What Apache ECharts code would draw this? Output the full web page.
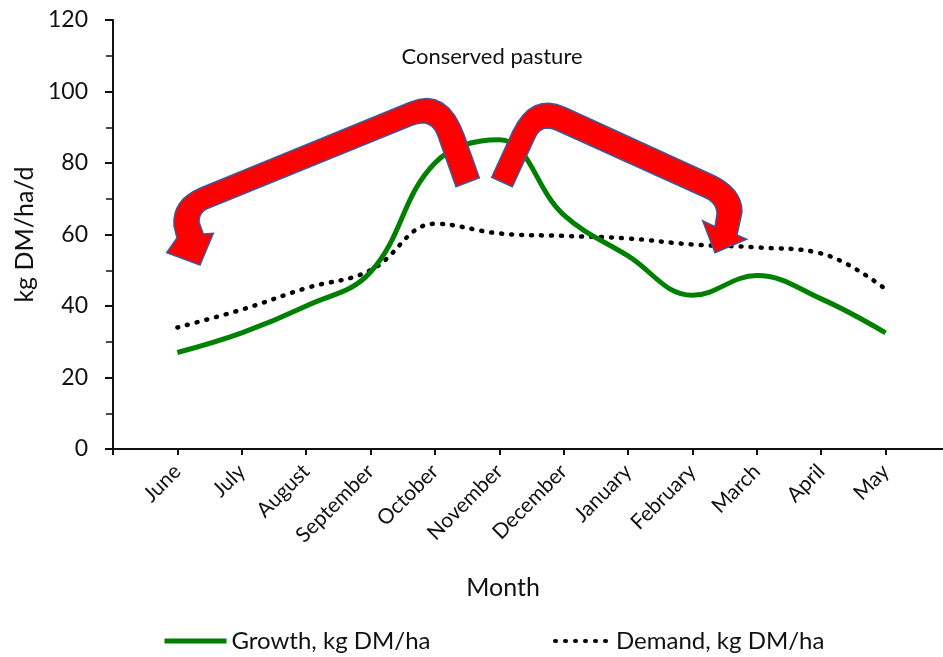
<!DOCTYPE html>
<html>
<head>
    <meta charset="utf-8">
    <title>Pasture growth and demand</title>
    <script src="https://cdn.jsdelivr.net/npm/echarts@6/dist/echarts.min.js"></script>
    <style type="text/css">
        * { margin: 0; padding: 0; }
        body { background: #fff; }
    </style>
</head>
<body>
<div id="main" style="width: 943px; height: 657px;"></div>
<script type="text/javascript">
    // data
    var months = ['June', 'July', 'August', 'September', 'October', 'November',
                  'December', 'January', 'February', 'March', 'April', 'May'];
    var growth = [27, 32.5, 40, 49.5, 80, 86.5, 65.5, 54, 43, 48.5, 42, 32.5];
    var demand = [34, 39, 45, 50, 63, 60.3, 59.6, 58.9, 57.2, 56.4, 54.7, 44.7];

    // blank slot at each end so the axis runs past June and May
    var cats = [''].concat(months, ['']);
    function pad(arr) { return ['-'].concat(arr, ['-']); }

    var FONT = 'Lato';
    var myChart = echarts.init(document.getElementById('main'));

    // outline of an arrow: plain points [x, y] or quadratic corners [cx, cy, x, y]
    function outline(parts) {
        var pts = [];
        var last = null;
        parts.forEach(function (p) {
            if (p.length === 2) {
                pts.push(p);
                last = p;
            } else {
                for (var i = 1; i <= 8; i++) {
                    var t = i / 8, u = 1 - t;
                    pts.push([
                        u * u * last[0] + 2 * u * t * p[0] + t * t * p[2],
                        u * u * last[1] + 2 * u * t * p[1] + t * t * p[3]
                    ]);
                }
                last = [p[2], p[3]];
            }
        });
        return pts;
    }

    // the two red U-turn arrows (decoration)
    var leftArrow = outline([
        [479.3, 177.7], [464.2, 135.3], [447, 87, 410, 102.2], [200, 188.3],
        [172, 200, 174, 226], [177, 238], [166.7, 252.7], [200, 265], [213.3, 233.3],
        [203.3, 234], [199, 222], [199, 211, 210, 207.5], [412, 125.2],
        [431.4, 117.5, 438, 136], [456, 186.7]
    ]);
    var rightArrow = outline([
        [491.7, 177.3], [512.6, 131.9], [531, 92, 565, 107.5], [712, 174.7],
        [742, 188, 742, 212], [737, 235], [746.7, 239.3], [715, 252.7], [702.7, 220.7],
        [715, 226.7], [717, 214], [717, 202.5, 704, 197], [557, 130.5],
        [541.6, 123.1, 534.9, 137.7], [512.3, 186.7]
    ]);

    var legendText = { fontFamily: FONT, fontSize: 24, color: '#111' };

    var option = {
        animation: false,
        backgroundColor: '#ffffff',
        textStyle: { fontFamily: FONT },
        grid: {
            left: 113, right: -7, top: 20, bottom: 208,
            outerBoundsMode: 'none'
        },
        legend: [
            {
                data: ['Growth, kg DM/ha'],
                left: 157, top: 624,
                itemWidth: 62, itemHeight: 14,
                itemStyle: { opacity: 0 },
                lineStyle: { width: 5 },
                textStyle: legendText
            },
            {
                data: ['Demand, kg DM/ha'],
                left: 548, top: 624,
                itemWidth: 56, itemHeight: 14,
                itemStyle: { opacity: 0 },
                lineStyle: { width: 4 },
                textStyle: legendText
            }
        ],
        xAxis: {
            type: 'category',
            data: cats,
            boundaryGap: false,
            axisLine: { lineStyle: { color: '#111', width: 2 } },
            axisTick: { show: true, length: 6, interval: 0, lineStyle: { color: '#111', width: 2 } },
            axisLabel: {
                interval: 0, rotate: 45, margin: 19,
                fontFamily: FONT, fontSize: 21, color: '#111'
            },
            splitLine: { show: false }
        },
        yAxis: {
            type: 'value',
            min: 0, max: 120, interval: 20,
            name: 'kg DM/ha/d',
            nameLocation: 'middle',
            nameGap: 72,
            nameTextStyle: { fontFamily: FONT, fontSize: 25, color: '#111' },
            axisLine: { show: true, lineStyle: { color: '#111', width: 2 } },
            axisTick: { show: true, length: 8, lineStyle: { color: '#111', width: 2 } },
            minorTick: { show: true, splitNumber: 2, length: 7, lineStyle: { color: '#111', width: 1.5 } },
            axisLabel: { margin: 25, fontFamily: FONT, fontSize: 23, color: '#111' },
            splitLine: { show: false }
        },
        series: [
            {
                name: 'Growth, kg DM/ha',
                type: 'line',
                data: pad(growth),
                smooth: 0.4,
                symbol: 'none',
                color: '#008000',
                lineStyle: { color: '#008000', width: 5 },
                z: 3
            },
            {
                name: 'Demand, kg DM/ha',
                type: 'line',
                data: pad(demand),
                smooth: 0.4,
                symbol: 'none',
                color: '#000',
                lineStyle: { color: '#000', width: 4.5, type: [1, 9], cap: 'round' },
                z: 2
            }
        ],
        graphic: [
            {
                type: 'text', x: 492, y: 57,
                style: {
                    text: 'Conserved pasture', font: '22px Lato', fill: '#111',
                    textAlign: 'center', textVerticalAlign: 'middle'
                }
            },
            {
                type: 'text', x: 503, y: 588,
                style: {
                    text: 'Month', font: '25px Lato', fill: '#111',
                    textAlign: 'center', textVerticalAlign: 'middle'
                }
            },
            {
                type: 'polygon', z: 100,
                shape: { points: leftArrow },
                style: { fill: '#ff0000', stroke: '#3c5a9a', lineWidth: 1.5 }
            },
            {
                type: 'polygon', z: 100,
                shape: { points: rightArrow },
                style: { fill: '#ff0000', stroke: '#3c5a9a', lineWidth: 1.5 }
            }
        ]
    };

    myChart.setOption(option);

    window.addEventListener('resize', function () {
        myChart.resize();
    });
</script>
</body>
</html>
